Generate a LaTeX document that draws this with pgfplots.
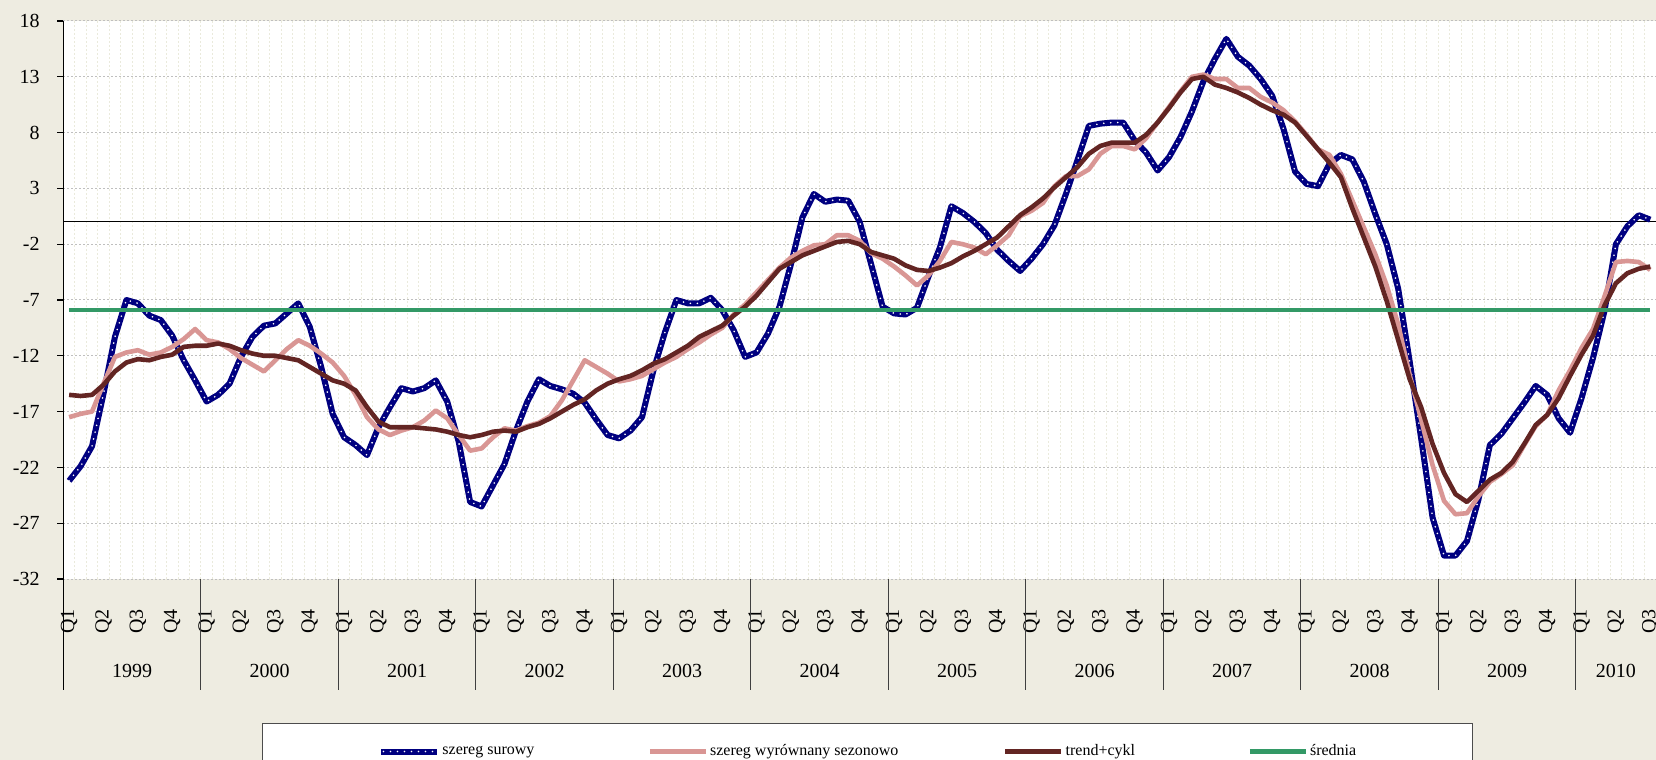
\documentclass[border=0pt]{standalone}
\usepackage{pgfplots}
\pgfplotsset{compat=1.18}
\usepackage{pgfplotstable}
\usepackage{fontspec}
\setmainfont{Liberation Serif}
\definecolor{bgc}{HTML}{EEECE1}
\definecolor{navyc}{HTML}{000080}
\definecolor{pinkc}{HTML}{D99694}
\definecolor{brownc}{HTML}{632523}
\definecolor{greenc}{HTML}{339966}
\definecolor{vgrid}{HTML}{EAEADC}
\pgfplotsset{
  lineleg/.style={legend image code/.code={\draw[##1] (0pt,0pt) -- (28pt,0pt);}},
  blueleg/.style={legend image code/.code={\draw[##1] (0pt,0pt) -- (28pt,0pt);
    \draw[white, line width=0.9pt, line cap=round, dash pattern=on 0pt off 3.5pt] (1pt,0pt) -- (28pt,0pt);}},
}

\pgfplotstableread{
i raw sa tc
0 -23.2 -17.5 -15.5
1 -21.9 -17.2 -15.6
2 -20.1 -17.0 -15.5
3 -15.4 -14.5 -14.6
4 -10.3 -12.1 -13.4
5 -7.0 -11.7 -12.6
6 -7.3 -11.5 -12.3
7 -8.4 -11.9 -12.4
8 -8.8 -11.7 -12.1
9 -10.2 -11.2 -11.9
10 -12.4 -10.5 -11.2
11 -14.2 -9.6 -11.1
12 -16.1 -10.6 -11.1
13 -15.5 -10.8 -10.9
14 -14.5 -11.4 -11.1
15 -12.1 -12.2 -11.5
16 -10.3 -12.8 -11.8
17 -9.3 -13.4 -12.0
18 -9.1 -12.4 -12.0
19 -8.2 -11.4 -12.2
20 -7.3 -10.6 -12.4
21 -9.4 -11.1 -13.0
22 -13.0 -11.8 -13.6
23 -17.2 -12.6 -14.2
24 -19.3 -13.8 -14.5
25 -20.0 -15.5 -15.1
26 -20.9 -17.5 -16.6
27 -18.4 -18.6 -17.9
28 -16.6 -19.1 -18.4
29 -14.9 -18.7 -18.4
30 -15.2 -18.4 -18.4
31 -14.9 -17.8 -18.5
32 -14.2 -16.9 -18.6
33 -16.1 -17.6 -18.8
34 -19.7 -19.1 -19.1
35 -25.1 -20.5 -19.3
36 -25.5 -20.3 -19.1
37 -23.6 -19.3 -18.8
38 -21.7 -18.5 -18.7
39 -18.7 -18.7 -18.8
40 -16.1 -18.3 -18.4
41 -14.1 -18.0 -18.1
42 -14.7 -17.4 -17.6
43 -15.0 -16.0 -17.0
44 -15.4 -14.2 -16.4
45 -16.2 -12.4 -15.9
46 -17.7 -13.0 -15.1
47 -19.1 -13.6 -14.5
48 -19.4 -14.3 -14.1
49 -18.7 -14.1 -13.8
50 -17.5 -13.8 -13.3
51 -13.3 -13.2 -12.7
52 -9.9 -12.6 -12.3
53 -7.0 -12.1 -11.7
54 -7.3 -11.4 -11.1
55 -7.3 -10.8 -10.3
56 -6.8 -10.1 -9.8
57 -7.9 -9.5 -9.3
58 -9.7 -8.3 -8.4
59 -12.1 -7.4 -7.6
60 -11.7 -6.3 -6.6
61 -10.0 -5.2 -5.4
62 -7.6 -4.1 -4.2
63 -3.8 -3.2 -3.6
64 0.4 -2.6 -3.0
65 2.5 -2.1 -2.6
66 1.8 -2.0 -2.2
67 2.0 -1.2 -1.8
68 1.9 -1.2 -1.7
69 0.0 -1.7 -2.0
70 -3.8 -2.8 -2.7
71 -7.6 -3.3 -3.0
72 -8.2 -4.0 -3.3
73 -8.3 -4.8 -3.9
74 -7.7 -5.7 -4.3
75 -4.9 -4.8 -4.4
76 -2.3 -3.5 -4.1
77 1.4 -1.8 -3.7
78 0.8 -2.0 -3.1
79 0.0 -2.3 -2.6
80 -1.0 -2.9 -2.0
81 -2.5 -2.1 -1.4
82 -3.5 -1.2 -0.4
83 -4.4 0.5 0.6
84 -3.3 1.0 1.3
85 -2.0 1.7 2.1
86 -0.3 3.2 3.1
87 2.5 4.1 4.0
88 5.5 4.1 4.9
89 8.6 4.7 6.1
90 8.8 6.1 6.8
91 8.9 6.8 7.1
92 8.9 6.8 7.1
93 7.3 6.5 7.1
94 6.2 7.5 7.8
95 4.6 8.9 8.9
96 5.8 10.3 10.2
97 7.6 11.7 11.6
98 9.9 13.0 12.8
99 12.6 13.2 13.0
100 14.6 12.8 12.3
101 16.4 12.8 12.0
102 14.8 12.0 11.6
103 14.0 12.0 11.1
104 12.8 11.2 10.5
105 11.3 10.7 10.0
106 8.3 10.0 9.6
107 4.5 9.0 8.9
108 3.4 7.8 7.7
109 3.2 6.5 6.5
110 5.2 6.0 5.3
111 6.0 4.3 4.0
112 5.6 1.9 1.2
113 3.6 -0.5 -1.4
114 0.7 -2.9 -4.0
115 -2.0 -5.7 -7.1
116 -6.0 -9.2 -10.6
117 -12.5 -13.7 -14.1
118 -19.4 -17.7 -16.6
119 -26.5 -21.8 -19.9
120 -29.9 -25.0 -22.5
121 -29.9 -26.2 -24.4
122 -28.6 -26.1 -25.1
123 -24.9 -24.6 -24.1
124 -20.0 -23.3 -23.1
125 -19.0 -22.6 -22.5
126 -17.6 -21.8 -21.5
127 -16.2 -20.0 -19.9
128 -14.7 -18.3 -18.2
129 -15.5 -17.3 -17.3
130 -17.6 -15.1 -15.8
131 -18.9 -13.3 -13.8
132 -15.8 -11.3 -11.9
133 -12.2 -9.6 -10.2
134 -8.0 -6.7 -7.5
135 -2.0 -3.6 -5.5
136 -0.4 -3.5 -4.6
137 0.6 -3.6 -4.2
138 0.2 -4.3 -4.0
}\datatable

\begin{document}
\begin{tikzpicture}
\useasboundingbox (-31.7pt,-90.5pt) rectangle (796.3pt,289.5pt);
\fill[bgc] (-31.7pt,-90.5pt) rectangle (796.3pt,289.5pt);
\begin{axis}[
  at={(0pt,0pt)}, anchor=south west, scale only axis,
  width=796.3pt, height=279pt,
  xmin=-0.5, xmax=138.5, ymin=-32, ymax=18,
  axis background/.style={fill=white},
  axis y line*=left, axis x line*=bottom,
  x axis line style={draw=none},
  y axis line style={black, line width=0.6pt, -},
  ytick={-32,-27,-22,-17,-12,-7,-2,3,8,13,18},
  yticklabels={-32,-27,-22,-17,-12,-7,-2,3,8,13,18},
  tick align=outside,
  ytick style={black, line width=0.6pt},
  major tick length=3pt,
  yticklabel style={font=\fontsize{10}{12}\selectfont, inner sep=0pt, anchor=east, xshift=-8.7pt},
  ymajorgrids,
  major grid style={black!25, dash pattern=on 1pt off 1pt, line width=0.5pt},
  xtick={0,3,...,138},
  xticklabels={Q1,Q2,Q3,Q4,Q1,Q2,Q3,Q4,Q1,Q2,Q3,Q4,Q1,Q2,Q3,Q4,Q1,Q2,Q3,Q4,Q1,Q2,Q3,Q4,Q1,Q2,Q3,Q4,Q1,Q2,Q3,Q4,Q1,Q2,Q3,Q4,Q1,Q2,Q3,Q4,Q1,Q2,Q3,Q4,Q1,Q2,Q3},
  xtick style={draw=none},
  xticklabel style={font=\fontsize{10}{12}\selectfont, inner sep=0pt, yshift=-12pt, rotate=90, anchor=east},
  minor xtick={-0.5,0.5,...,138.5},
  xminorgrids,
  minor grid style={vgrid, dash pattern=on 1pt off 1pt, line width=0.4pt},
  clip=false,
  legend columns=4,
  legend cell align=left,
  legend style={at={(axis description cs:0.1247,-0.258)}, anchor=north west,
    draw=black!70, line width=0.5pt, fill=white, inner xsep=58pt, inner ysep=9.5pt,
    font=\fontsize{8}{9}\selectfont, nodes={inner sep=1pt}},
]
\addplot[black, line width=0.5pt, forget plot] coordinates {(-0.5,0) (138.5,0)};
\addplot[navyc, line width=3pt, line join=round, blueleg]
  table[x=i, y=raw] {\datatable};
\addlegendentry{\makebox[101.5pt][l]{szereg surowy}}
\addplot[white, line width=0.9pt, line cap=round, line join=round, dash pattern=on 0pt off 3.5pt, forget plot]
  table[x=i, y=raw] {\datatable};
\addplot[pinkc, line width=2.3pt, line join=round, lineleg]
  table[x=i, y=sa] {\datatable};
\addlegendentry{\makebox[145.5pt][l]{szereg wyrównany sezonowo}}
\addplot[brownc, line width=2.3pt, line join=round, lineleg]
  table[x=i, y=tc] {\datatable};
\addlegendentry{\makebox[90pt][l]{trend+cykl}}
\addplot[greenc, line width=2.2pt, lineleg]
  coordinates {(0,-7.9) (138,-7.9)};
\addlegendentry{\makebox[22pt][l]{średnia}}
\pgfplotsinvokeforeach{-0.5,11.5,23.5,35.5,47.5,59.5,71.5,83.5,95.5,107.5,119.5,131.5}{
  \draw[black!75, line width=0.6pt] (axis cs:#1,-32) -- ++(0pt,-55.5pt);
}
\draw[black, line width=0.6pt] (axis cs:-0.5,-32) -- ++(0pt,-55.5pt);
\tikzset{yr/.style={font=\fontsize{10}{12}\selectfont, anchor=center, inner sep=0pt}}
\node[yr] at ([yshift=-45.8pt]axis cs:5.5,-32) {1999};
\node[yr] at ([yshift=-45.8pt]axis cs:17.5,-32) {2000};
\node[yr] at ([yshift=-45.8pt]axis cs:29.5,-32) {2001};
\node[yr] at ([yshift=-45.8pt]axis cs:41.5,-32) {2002};
\node[yr] at ([yshift=-45.8pt]axis cs:53.5,-32) {2003};
\node[yr] at ([yshift=-45.8pt]axis cs:65.5,-32) {2004};
\node[yr] at ([yshift=-45.8pt]axis cs:77.5,-32) {2005};
\node[yr] at ([yshift=-45.8pt]axis cs:89.5,-32) {2006};
\node[yr] at ([yshift=-45.8pt]axis cs:101.5,-32) {2007};
\node[yr] at ([yshift=-45.8pt]axis cs:113.5,-32) {2008};
\node[yr] at ([yshift=-45.8pt]axis cs:125.5,-32) {2009};
\node[yr] at ([yshift=-45.8pt]axis cs:135,-32) {2010};
\end{axis}
\end{tikzpicture}
\end{document}
